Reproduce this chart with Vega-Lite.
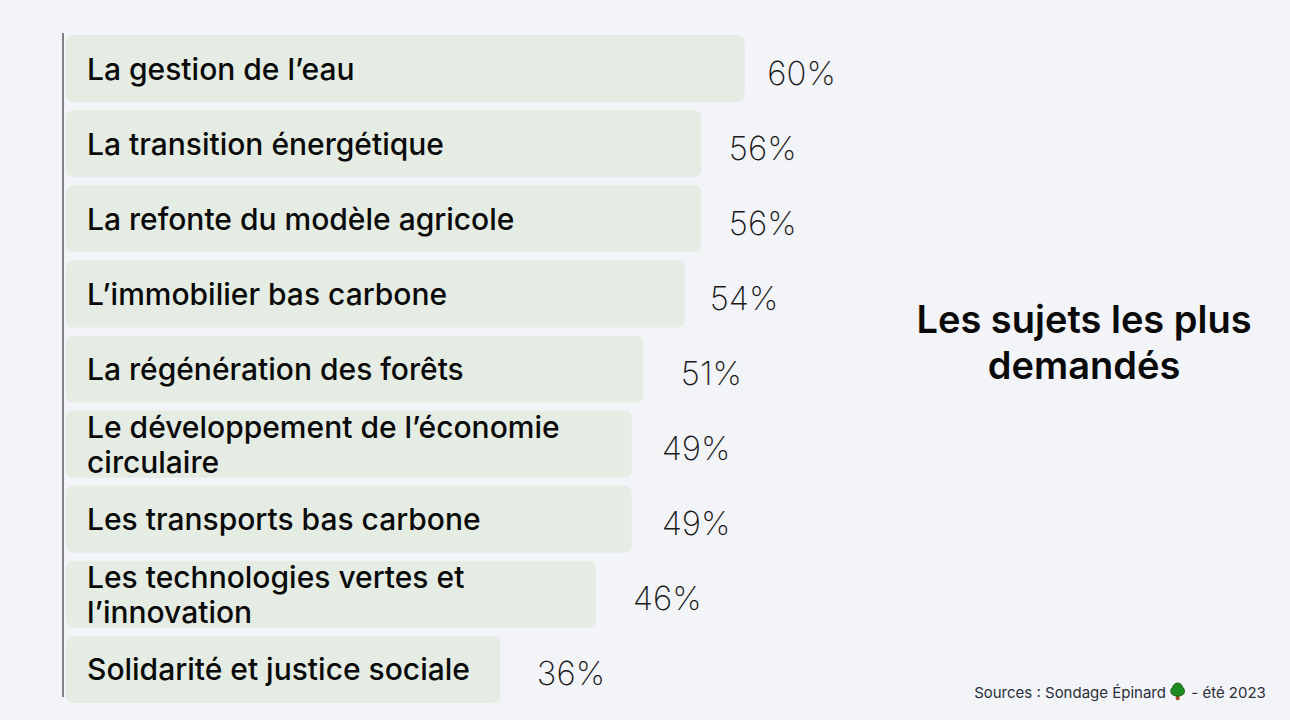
{
"$schema":"https://vega.github.io/schema/vega-lite/v6.json",
"width":1227,"height":676,
"autosize":{"type":"none"},
"padding":{"left":63,"top":31,"right":0,"bottom":13},
"background":"#f3f4f8",
"view":{"stroke":null},
"title":{"text":["Les sujets les plus","demandés"],"frame":"group","anchor":"middle","orient":"top","offset":0,"dx":407.5,"dy":355.5,"fontSize":38,"font":"Inter","fontWeight":600,"lineHeight":46,"color":"#0a0a0a"},
"data":{"values":[
{"subject":"La gestion de l’eau","bar_length":60,"pct":60,"label":"60%"},
{"subject":"La transition énergétique","bar_length":56.15,"pct":56,"label":"56%"},
{"subject":"La refonte du modèle agricole","bar_length":56.15,"pct":56,"label":"56%"},
{"subject":"L’immobilier bas carbone","bar_length":54.7,"pct":54,"label":"54%"},
{"subject":"La régénération des forêts","bar_length":51,"pct":51,"label":"51%"},
{"subject":"Le développement de l’économie\ncirculaire","bar_length":50,"pct":49,"label":"49%"},
{"subject":"Les transports bas carbone","bar_length":50,"pct":49,"label":"49%"},
{"subject":"Les technologies vertes et\nl’innovation","bar_length":46.85,"pct":46,"label":"46%"},
{"subject":"Solidarité et justice sociale","bar_length":38.4,"pct":36,"label":"36%"}
]},
"resolve":{"scale":{"x":"independent"}},
"layer":[
{"mark":{"type":"bar","cornerRadius":7,"color":"#e5ece3"},
 "encoding":{
  "y":{"field":"subject","type":"nominal","sort":null,"axis":null,"scale":{"paddingInner":0.107,"paddingOuter":0.0535}},
  "x":{"field":"bar_length","type":"quantitative","stack":null,"scale":{"domain":[-0.265,108.2],"nice":false,"zero":false},
   "axis":{"title":"Sources : Sondage Épinard\u00a0\u00a0\u00a0\u00a0\u00a0\u00a0- été 2023","domain":false,"ticks":false,"labels":false,"grid":false,"titleX":1056.5,"titleY":-15,"titleBaseline":"middle","titleAlign":"center","titleAnchor":null,"titleFontSize":15,"titleFontWeight":400,"titleFont":"Inter","titleColor":"#2a2f38"}},
  "x2":{"datum":0}
 }},
{"transform":[{"filter":"indexof(datum.subject,'\\n')<0"}],
 "mark":{"type":"text","align":"left","baseline":"middle","font":"Inter","fontSize":30,"fontWeight":500,"dy":2,"color":"#0a0a0a"},
 "encoding":{
  "y":{"field":"subject","type":"nominal","sort":null,"axis":null,"scale":{"paddingInner":0.107,"paddingOuter":0.0535}},
  "x":{"datum":1.857,"type":"quantitative","scale":{"domain":[-0.265,108.2],"nice":false,"zero":false},"axis":null},
  "text":{"field":"subject"}
 }},
{"transform":[{"filter":"indexof(datum.subject,'\\n')>=0"}],
 "mark":{"type":"text","align":"left","baseline":"middle","font":"Inter","fontSize":30,"fontWeight":500,"lineBreak":"\n","lineHeight":35,"dy":-15,"color":"#0a0a0a"},
 "encoding":{
  "y":{"field":"subject","type":"nominal","sort":null,"axis":null,"scale":{"paddingInner":0.107,"paddingOuter":0.0535}},
  "x":{"datum":1.857,"type":"quantitative","scale":{"domain":[-0.265,108.2],"nice":false,"zero":false},"axis":null},
  "text":{"field":"subject"}
 }},
{"mark":{"type":"text","align":"left","baseline":"middle","font":"Inter","fontSize":33,"fontWeight":200,"dy":6,"color":"#1a1a1a"},
 "encoding":{
  "y":{"field":"subject","type":"nominal","sort":null,"axis":null,"scale":{"paddingInner":0.107,"paddingOuter":0.0535}},
  "x":{"field":"pct","type":"quantitative","scale":{"domain":[-13.36,114.45],"nice":false,"zero":false},"axis":null},
  "text":{"field":"label"}
 }},
{"data":{"values":[{"part":"axis line"}]},
 "mark":{"type":"rule","color":"#5a5d63","strokeWidth":1.5},
 "encoding":{"x":{"value":0},"y":{"value":2},"y2":{"value":666}}},
{"data":{"values":[{"part":"trunk"}]},
 "mark":{"type":"point","filled":true,"shape":"M-0.25,0.3H0.25V1H-0.25Z","size":225,"color":"#a5521f","opacity":1},
 "encoding":{"x":{"datum":98.27,"type":"quantitative","scale":{"domain":[-0.265,108.2],"nice":false,"zero":false},"axis":null},"y":{"value":661.5}}},
{"data":{"values":[{"part":"canopy"}]},
 "mark":{"type":"point","filled":true,"shape":"M0,-1C0.4,-1 0.6,-0.7 0.7,-0.4C1,-0.2 1,0.5 0.6,0.6C0.3,0.8 -0.3,0.8 -0.6,0.6C-1,0.5 -1,-0.2 -0.7,-0.4C-0.6,-0.7 -0.4,-1 0,-1Z","size":225,"color":"#1f8a1f","stroke":"#0c4a0c","strokeWidth":0.8,"opacity":1},
 "encoding":{"x":{"datum":98.27,"type":"quantitative","scale":{"domain":[-0.265,108.2],"nice":false,"zero":false},"axis":null},"y":{"value":659.5}}}
]
}
